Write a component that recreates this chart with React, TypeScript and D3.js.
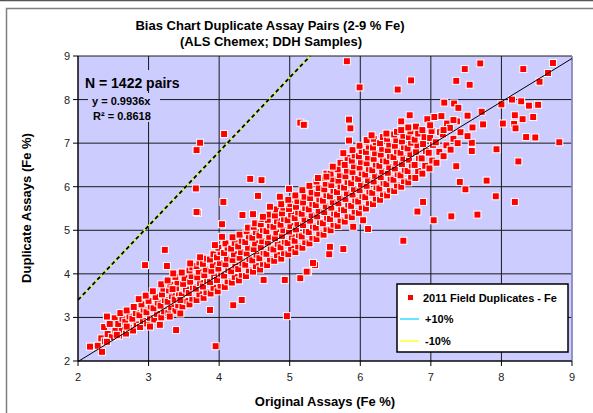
import * as d3 from 'd3';

type Pair = [number, number];

const xTicks = [2, 3, 4, 5, 6, 7, 8, 9];
const yTicks = [2, 3, 4, 5, 6, 7, 8, 9];

// dense cloud, original vs duplicate Fe %
const bandLow: Pair[] = [
  [2.28,2.35],[2.33,2.52],
  [2.38,2.45],[2.42,2.62],[2.37,2.78],[2.44,2.9],
  [2.48,2.55],[2.53,2.7],[2.47,2.86],[2.52,2.98],
  [2.58,2.58],[2.62,2.72],[2.57,2.85],[2.63,2.97],[2.6,3.1],
  [2.68,2.63],[2.72,2.76],[2.67,2.9],[2.73,3.02],[2.69,3.16],
  [2.78,2.7],[2.83,2.84],[2.77,2.97],[2.82,3.1],[2.79,3.24],
  [2.88,2.78],[2.92,2.92],[2.87,3.05],[2.93,3.18],[2.9,3.3],[2.86,3.42],
  [2.98,2.86],[3.02,2.99],[2.97,3.12],[3.03,3.25],[3.0,3.38],[2.96,3.5],
  [3.08,2.95],[3.12,3.08],[3.07,3.21],[3.13,3.34],[3.1,3.47],[3.06,3.6],
  [3.18,3.0],[3.22,3.14],[3.17,3.27],[3.23,3.4],[3.19,3.53],[3.21,3.66],[3.18,3.76],
  [3.28,3.1],[3.32,3.23],[3.27,3.36],[3.33,3.49],[3.29,3.62],[3.31,3.75],[3.27,3.85],
  [3.38,3.15],[3.42,3.28],[3.37,3.41],[3.43,3.54],[3.39,3.67],[3.41,3.8],[3.38,3.93],
  [3.48,3.25],[3.52,3.38],[3.47,3.51],[3.53,3.64],[3.49,3.77],[3.51,3.9],[3.47,4.03],
  [3.58,3.3],[3.62,3.43],[3.57,3.56],[3.63,3.69],[3.59,3.82],[3.61,3.95],[3.58,4.08],[3.62,4.15],
  [3.68,3.4],[3.72,3.53],[3.67,3.66],[3.73,3.79],[3.69,3.92],[3.71,4.05],[3.68,4.18],[3.72,4.26],
  [3.78,3.45],[3.82,3.58],[3.77,3.71],[3.83,3.84],[3.79,3.97],[3.81,4.1],[3.77,4.23],[3.82,4.35],
  [3.88,3.55],[3.92,3.68],[3.87,3.81],[3.93,3.94],[3.89,4.07],[3.91,4.2],[3.87,4.33],[3.92,4.45],
];

const bandMid: Pair[] = [
  [3.98,3.6],[4.02,3.73],[3.97,3.86],[4.03,3.99],[3.99,4.12],[4.01,4.25],[3.97,4.38],[4.02,4.5],[3.99,4.6],
  [4.08,3.7],[4.12,3.83],[4.07,3.96],[4.13,4.09],[4.09,4.22],[4.11,4.35],[4.07,4.48],[4.12,4.6],[4.09,4.7],
  [4.18,3.8],[4.22,3.93],[4.17,4.06],[4.23,4.19],[4.19,4.32],[4.21,4.45],[4.17,4.58],[4.22,4.71],[4.19,4.84],
  [4.28,3.85],[4.32,3.98],[4.27,4.11],[4.33,4.24],[4.29,4.37],[4.31,4.5],[4.27,4.63],[4.32,4.76],[4.29,4.9],
  [4.38,3.95],[4.42,4.08],[4.37,4.21],[4.43,4.34],[4.39,4.47],[4.41,4.6],[4.37,4.73],[4.42,4.86],[4.39,4.98],[4.41,5.06],
  [4.48,4.05],[4.52,4.18],[4.47,4.31],[4.53,4.44],[4.49,4.57],[4.51,4.7],[4.47,4.83],[4.52,4.96],[4.49,5.08],[4.51,5.16],
  [4.58,4.1],[4.62,4.23],[4.57,4.36],[4.63,4.49],[4.59,4.62],[4.61,4.75],[4.57,4.88],[4.62,5.01],[4.59,5.14],[4.61,5.26],
  [4.68,4.2],[4.72,4.33],[4.67,4.46],[4.73,4.59],[4.69,4.72],[4.71,4.85],[4.67,4.98],[4.72,5.11],[4.69,5.24],[4.71,5.36],
  [4.78,4.3],[4.82,4.43],[4.77,4.56],[4.83,4.69],[4.79,4.82],[4.81,4.95],[4.77,5.08],[4.82,5.21],[4.79,5.34],[4.81,5.48],
  [4.88,4.35],[4.92,4.48],[4.87,4.61],[4.93,4.74],[4.89,4.87],[4.91,5.0],[4.87,5.13],[4.92,5.26],[4.89,5.39],[4.91,5.52],[4.88,5.6],
  [4.98,4.45],[5.02,4.58],[4.97,4.71],[5.03,4.84],[4.99,4.97],[5.01,5.1],[4.97,5.23],[5.02,5.36],[4.99,5.49],[5.01,5.6],[4.98,5.7],
  [5.08,4.5],[5.12,4.63],[5.07,4.76],[5.13,4.89],[5.09,5.02],[5.11,5.15],[5.07,5.28],[5.12,5.41],[5.09,5.54],[5.11,5.67],[5.08,5.8],
  [5.18,4.6],[5.22,4.73],[5.17,4.86],[5.23,4.99],[5.19,5.12],[5.21,5.25],[5.17,5.38],[5.22,5.51],[5.19,5.64],[5.21,5.77],[5.18,5.92],
  [5.28,4.7],[5.32,4.83],[5.27,4.96],[5.33,5.09],[5.29,5.22],[5.31,5.35],[5.27,5.48],[5.32,5.61],[5.29,5.74],[5.31,5.87],[5.28,6.02],
  [5.38,4.8],[5.42,4.93],[5.37,5.06],[5.43,5.19],[5.39,5.32],[5.41,5.45],[5.37,5.58],[5.42,5.71],[5.39,5.84],[5.41,5.97],[5.38,6.12],
];

const bandHigh: Pair[] = [
  [5.48,4.9],[5.52,5.03],[5.47,5.16],[5.53,5.29],[5.49,5.42],[5.51,5.55],[5.47,5.68],[5.52,5.81],[5.49,5.94],[5.51,6.07],[5.48,6.2],[5.52,6.3],
  [5.58,5.0],[5.62,5.13],[5.57,5.26],[5.63,5.39],[5.59,5.52],[5.61,5.65],[5.57,5.78],[5.62,5.91],[5.59,6.04],[5.61,6.17],[5.58,6.3],[5.62,6.44],
  [5.68,5.1],[5.72,5.23],[5.67,5.36],[5.73,5.49],[5.69,5.62],[5.71,5.75],[5.67,5.88],[5.72,6.01],[5.69,6.14],[5.71,6.27],[5.68,6.4],[5.72,6.55],
  [5.78,5.2],[5.82,5.33],[5.77,5.46],[5.83,5.59],[5.79,5.72],[5.81,5.85],[5.77,5.98],[5.82,6.11],[5.79,6.24],[5.81,6.37],[5.78,6.5],[5.82,6.66],
  [5.88,5.3],[5.92,5.43],[5.87,5.56],[5.93,5.69],[5.89,5.82],[5.91,5.95],[5.87,6.08],[5.92,6.21],[5.89,6.34],[5.91,6.47],[5.88,6.6],[5.92,6.72],[5.89,6.84],
  [5.98,5.4],[6.02,5.53],[5.97,5.66],[6.03,5.79],[5.99,5.92],[6.01,6.05],[5.97,6.18],[6.02,6.31],[5.99,6.44],[6.01,6.57],[5.98,6.7],[6.02,6.82],[5.99,6.94],
  [6.08,5.5],[6.12,5.63],[6.07,5.76],[6.13,5.89],[6.09,6.02],[6.11,6.15],[6.07,6.28],[6.12,6.41],[6.09,6.54],[6.11,6.67],[6.08,6.8],[6.12,6.92],[6.09,7.04],
  [6.18,5.6],[6.22,5.73],[6.17,5.86],[6.23,5.99],[6.19,6.12],[6.21,6.25],[6.17,6.38],[6.22,6.51],[6.19,6.64],[6.21,6.77],[6.18,6.9],[6.22,7.02],[6.19,7.1],
  [6.28,5.7],[6.32,5.83],[6.27,5.96],[6.33,6.09],[6.29,6.22],[6.31,6.35],[6.27,6.48],[6.32,6.61],[6.29,6.74],[6.31,6.87],[6.28,7.0],[6.32,7.14],
  [6.38,5.8],[6.42,5.93],[6.37,6.06],[6.43,6.19],[6.39,6.32],[6.41,6.45],[6.37,6.58],[6.42,6.71],[6.39,6.84],[6.41,6.97],[6.38,7.1],[6.42,7.2],
  [6.48,5.9],[6.52,6.03],[6.47,6.16],[6.53,6.29],[6.49,6.42],[6.51,6.55],[6.47,6.68],[6.52,6.81],[6.49,6.94],[6.51,7.07],[6.48,7.2],[6.52,7.26],
  [6.58,6.0],[6.62,6.13],[6.57,6.26],[6.63,6.39],[6.59,6.52],[6.61,6.65],[6.57,6.78],[6.62,6.91],[6.59,7.04],[6.61,7.17],[6.58,7.3],
  [6.68,6.1],[6.72,6.23],[6.67,6.36],[6.73,6.49],[6.69,6.62],[6.71,6.75],[6.67,6.88],[6.72,7.01],[6.69,7.14],[6.71,7.27],[6.68,7.36],
  [6.78,6.2],[6.82,6.36],[6.77,6.5],[6.83,6.66],[6.79,6.8],[6.81,6.95],[6.77,7.08],[6.82,7.22],[6.79,7.38],
  [6.88,6.3],[6.92,6.48],[6.87,6.65],[6.93,6.82],[6.89,6.98],[6.91,7.14],[6.88,7.3],
  [6.98,6.42],[7.02,6.6],[6.97,6.78],[7.03,6.96],[6.99,7.12],[7.01,7.28],[6.98,7.44],
  [7.08,6.55],[7.12,6.8],[7.07,7.02],[7.13,7.25],
  [7.18,6.7],[7.22,6.95],[7.17,7.2],[7.23,7.45],
  [7.28,6.85],[7.32,7.1],[7.27,7.35],
  [7.38,7.0],[7.42,7.25],[7.37,7.5],
];

// ragged edges of the cloud
const edgePairs: Pair[] = [
  [2.17,2.33],[2.34,2.21],[2.41,2.44],[2.41,3.02],[2.45,2.85],[2.55,2.6],[2.69,2.79],
  [3.02,2.79],[3.16,2.83],[3.3,3.02],[3.45,3.09],[3.39,2.71],[3.87,3.17],[4.2,3.28],[4.32,3.4],
  [4.63,3.86],[4.93,3.86],[5.15,3.9],[5.26,4.05],[5.36,4.2],[5.24,4.05],[5.33,4.25],
  [5.56,4.45],[5.57,4.62],[5.76,4.57],[5.9,5.08],[6.04,5.23],[6.11,5.03],
  [2.95,4.2],[3.23,4.55],[3.26,4.18],[3.35,4.01],[3.34,3.65],[3.45,3.4],[3.59,4.24],[3.73,4.38],
  [3.94,4.66],[4.04,4.85],[4.04,5.14],[3.7,5.4],[3.68,5.42],[4.33,5.35],[4.48,5.37],[4.62,5.31],
  [4.72,5.54],[4.86,5.77],[4.55,5.79],[4.99,5.95],[5.4,6.2],[5.52,6.23],[5.61,6.46],[5.76,6.77],
  [6.09,7.07],[6.16,7.18],[6.37,7.22],[6.58,7.5],[6.7,7.64],[6.95,7.55],[7.05,7.6],[6.99,7.41],
];

const outlierPairs: Pair[] = [
  [3.95,2.34],[4.96,3.03],
  [3.73,7.01],[3.68,6.84],[4.07,7.21],[5.15,7.47],[5.21,7.43],[5.2,7.42],
  [3.67,5.96],[4.44,6.18],[4.6,6.15],[4.06,5.65],
  [5.81,8.88],[5.99,8.28],[6.72,8.44],[6.53,8.23],[5.84,7.54],[5.86,7.34],[5.84,7.06],
  [7.48,8.7],[7.7,8.83],[7.36,8.43],[7.55,8.34],[8.31,8.7],[8.73,8.84],[8.66,8.61],[8.54,8.41],
  [7.19,7.93],[7.33,7.91],[7.39,7.81],[8.0,7.89],[8.15,8.0],[8.28,7.96],[8.39,7.86],[8.52,7.88],
  [8.19,7.64],[8.3,7.55],[8.45,7.6],[8.02,7.45],[8.18,7.44],[8.2,7.34],[8.35,7.14],[8.48,7.13],
  [8.82,7.02],[7.93,6.86],[8.24,6.58],[7.79,6.14],[7.92,5.78],[8.19,5.65],
  [7.66,5.36],[7.29,5.32],[7.04,5.23],[6.81,5.43],[6.89,5.65],[6.61,4.76],
  [7.49,5.94],[7.41,6.11],[7.72,7.72],[7.74,7.43],[7.58,7.01],[7.58,6.82],[7.36,6.47],
  [7.15,7.62],[7.32,7.53],[7.52,7.63],[7.59,7.36],[7.52,7.16],[7.18,7.3],
];

const regressionLine: Pair[] = [[2, 1.987], [9, 8.944]];
const tenPctLine: Pair[] = [[2, 3.4], [5.29, 9]];

const font = "'Liberation Sans', Arial, sans-serif";

export default function App() {
  const x = d3.scaleLinear().domain([2, 9]).range([78, 572]);
  const y = d3.scaleLinear().domain([2, 9]).range([361, 56]);
  const line = d3.line<Pair>().x(d => x(d[0])).y(d => y(d[1]));
  const allPairs = [...bandLow, ...bandMid, ...bandHigh, ...edgePairs, ...outlierPairs];
  const ms = 7;

  return (
    <svg width={593} height={413} style={{ position: 'absolute', left: 0, top: 0, background: '#fff' }}
      fontFamily={font}>
      <line x1={0} x2={593} y1={0.5} y2={0.5} stroke="#555" strokeWidth={1.5} />
      <rect x={6.5} y={8.5} width={600} height={420} fill="#fff" stroke="#808080" strokeWidth={1.5} />

      <text x={270} y={30} textAnchor="middle" fontSize={13} fontWeight="bold">
        Bias Chart Duplicate Assay Pairs (2-9 % Fe)
      </text>
      <text x={271} y={46} textAnchor="middle" fontSize={13} fontWeight="bold">
        (ALS Chemex; DDH Samples)
      </text>

      <rect x={x(2)} y={y(9)} width={x(9) - x(2)} height={y(2) - y(9)} fill="#CCCCFF" />
      {xTicks.map(t => (
        <line key={'gx' + t} x1={x(t)} x2={x(t)} y1={y(2)} y2={y(9)} stroke="#1a1a1a" strokeWidth={1} />
      ))}
      {yTicks.map(t => (
        <line key={'gy' + t} x1={x(2)} x2={x(9)} y1={y(t)} y2={y(t)} stroke="#1a1a1a" strokeWidth={1} />
      ))}
      <line x1={x(9)} x2={x(9)} y1={y(2)} y2={y(9)} stroke="#9999dd" strokeWidth={1.5} />

      <rect x={82} y={70} width={78} height={21} fill="#CCCCFF" />
      <rect x={88} y={93} width={72} height={29} fill="#CCCCFF" />
      <text x={85} y={88} fontSize={14} fontWeight="bold">N = 1422 pairs</text>
      <text x={92} y={105} fontSize={11} fontWeight="bold">y = 0.9936x</text>
      <text x={93} y={120} fontSize={11} fontWeight="bold">R² = 0.8618</text>

      <g>
        {allPairs.map((d, i) => (
          <rect key={i} x={x(d[0]) - ms / 2} y={y(d[1]) - ms / 2} width={ms} height={ms}
            fill="#FF0000" stroke="#fff" strokeWidth={1} />
        ))}
      </g>

      <path d={line(regressionLine) ?? ''} stroke="#000" strokeWidth={1} fill="none" />
      <path d={line(tenPctLine) ?? ''} stroke="#CCFF33" strokeWidth={1.8} fill="none" />
      <path d={line(tenPctLine) ?? ''} stroke="#000" strokeWidth={1.8} strokeDasharray="4,3" fill="none" />

      <line x1={x(2)} x2={x(2)} y1={y(2)} y2={y(9)} stroke="#000" strokeWidth={1} />
      <line x1={x(2)} x2={x(9)} y1={y(2)} y2={y(2)} stroke="#000" strokeWidth={1} />
      {yTicks.map(t => (
        <g key={'ty' + t}>
          <line x1={x(2) - 5} x2={x(2)} y1={y(t)} y2={y(t)} stroke="#000" />
          <text x={x(2) - 8} y={y(t) + 4} textAnchor="end" fontSize={11} fill="#222">{t}</text>
        </g>
      ))}
      {xTicks.map(t => (
        <g key={'tx' + t}>
          <line x1={x(t)} x2={x(t)} y1={y(2)} y2={y(2) + 5} stroke="#000" />
          <text x={x(t)} y={y(2) + 20} textAnchor="middle" fontSize={11} fill="#222">{t}</text>
        </g>
      ))}

      <text x={325} y={406} textAnchor="middle" fontSize={13} fontWeight="bold">Original Assays (Fe %)</text>
      <text transform="translate(31,208) rotate(-90)" textAnchor="middle" fontSize={13} fontWeight="bold">
        Duplicate Assays (Fe %)
      </text>

      <g transform="translate(397,284)">
        <rect x={0} y={0} width={171} height={68} fill="#fff" stroke="#000" strokeWidth={1.5} />
        <rect x={11} y={11} width={5} height={5} fill="#FF0000" />
        <text x={26} y={18} fontSize={11} fontWeight="bold">2011 Field Duplicates - Fe</text>
        <line x1={3} x2={22} y1={35} y2={35} stroke="#33DDFF" strokeWidth={1.5} />
        <text x={28} y={39} fontSize={11} fontWeight="bold">+10%</text>
        <line x1={3} x2={22} y1={57} y2={57} stroke="#FFFF33" strokeWidth={1.5} />
        <text x={28} y={61} fontSize={11} fontWeight="bold">-10%</text>
      </g>
    </svg>
  );
}
